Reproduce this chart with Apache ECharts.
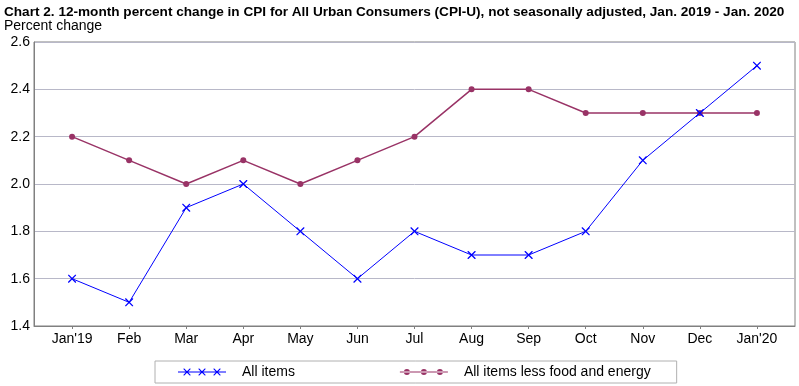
<!DOCTYPE html>
<html><head><meta charset="utf-8">
<script src="https://cdn.jsdelivr.net/npm/echarts@6/dist/echarts.min.js"></script>
<style>html,body{margin:0;padding:0;background:#fff}#c{width:799px;height:386px}</style>
</head><body><div id="c"></div>
<script>
var months = ["Jan'19","Feb","Mar","Apr","May","Jun","Jul","Aug","Sep","Oct","Nov","Dec","Jan'20"];
var allItems = [1.6,1.5,1.9,2.0,1.8,1.6,1.8,1.7,1.7,1.8,2.1,2.3,2.5];
var lessFoodEnergy = [2.2,2.1,2.0,2.1,2.0,2.1,2.2,2.4,2.4,2.3,2.3,2.3,2.3];
var yTicks = [1.4,1.6,1.8,2.0,2.2,2.4,2.6];
var titleText = "Chart 2. 12-month percent change in CPI for All Urban Consumers (CPI-U), not seasonally adjusted, Jan. 2019 - Jan. 2020";
var yName = "Percent change";

var idx = months.map(function(_, i){ return i; });
function pairs(arr){ return arr.map(function(v, i){ return [i, v]; }); }

function xMark(cx){
  var a = cx - 3.5, b = cx + 3.5;
  return 'M' + a + ',0.5 L' + (a+0.8) + ',0.5 L' + b + ',6.7 L' + b + ',7.5 L' + (b-0.8) + ',7.5 L' + a + ',1.3 Z ' +
         'M' + b + ',0.5 L' + b + ',1.3 L' + (a+0.8) + ',7.5 L' + a + ',7.5 L' + a + ',6.7 L' + (b-0.8) + ',0.5 Z ';
}
var frame = 'M0,0 H0.01 V8 H0 Z M47.99,0 H48 V8 H47.99 Z';
var xIcon = 'path://M0,3.6 H48 V4.4 H0 Z ' + xMark(9) + xMark(24) + xMark(39) + frame;
var dotIcon = 'path://M0,3.4 H48 V4.6 H0 Z ' +
  'M4,4 A3,3 0 1 0 10,4 A3,3 0 1 0 4,4 Z ' +
  'M21,4 A3,3 0 1 0 27,4 A3,3 0 1 0 21,4 Z ' +
  'M37,4 A3,3 0 1 0 43,4 A3,3 0 1 0 37,4 Z ' + frame;

var FONT = 'Liberation Sans, Arial, sans-serif';
var chart = echarts.init(document.getElementById('c'), null, {renderer:'canvas'});
chart.setOption({
  animation: false,
  textStyle: {fontFamily: FONT},
  title: [{
    text: titleText, left: 4, top: 5, padding: 0,
    textStyle: {fontSize: 13.6, fontWeight: 'bold', color: '#000', fontFamily: FONT}
  },{
    text: yName, left: 4, top: 19, padding: 0,
    textStyle: {fontSize: 14, fontWeight: 'normal', color: '#000', fontFamily: FONT}
  }],
  grid: {left: 34, right: 4, top: 42, bottom: 60, show: true, borderColor: '#808080', borderWidth: 1},
  xAxis: {
    type: 'value', min: -0.667, max: 12.667,
    splitLine: {show: false},
    axisLine: {show: true, onZero: false, lineStyle: {color: '#808080'}},
    axisTick: {show: true, customValues: idx, length: 3, lineStyle: {color: '#808080'}},
    axisLabel: {customValues: idx, color: '#000', fontSize: 14, margin: 6, fontFamily: FONT,
      formatter: function(v){ return months[Math.round(v)]; }}
  },
  yAxis: {
    type: 'value', min: 1.4, max: 2.6, interval: 0.2,
    axisLine: {show: true, onZero: false, lineStyle: {color: '#808080'}},
    axisTick: {show: false},
    splitLine: {show: true, lineStyle: {color: '#b8b8c8', width: 1}},
    axisLabel: {color: '#000', fontSize: 14, margin: 4, fontFamily: FONT,
      formatter: function(v){ return v.toFixed(1); }}
  },
  legend: {
    bottom: 3, left: 155,
    padding: [4, 26, 4, 23],
    borderColor: '#b0b0b0', borderWidth: 1,
    itemWidth: 48, itemHeight: 8, itemGap: 105,
    textStyle: {fontSize: 14, color: '#000', padding: [0,0,0,11], fontFamily: FONT},
    data: [
      {name: 'All items', icon: xIcon, itemStyle: {color: '#0000ff'}},
      {name: 'All items less food and energy', icon: dotIcon, itemStyle: {color: '#993366'}}
    ]
  },
  series: [{
    name: 'All items', type: 'line', data: pairs(allItems),
    symbol: 'path://' + xMark(3.5), symbolSize: [8, 8], showAllSymbol: true,
    lineStyle: {color: '#0000ff', width: 1}, itemStyle: {color: '#0000ff'}, z: 3
  },{
    name: 'All items less food and energy', type: 'line', data: pairs(lessFoodEnergy),
    symbol: 'circle', symbolSize: 6, showAllSymbol: true,
    lineStyle: {color: '#993366', width: 1.5}, itemStyle: {color: '#993366'}, z: 2
  }]
});
</script></body></html>
